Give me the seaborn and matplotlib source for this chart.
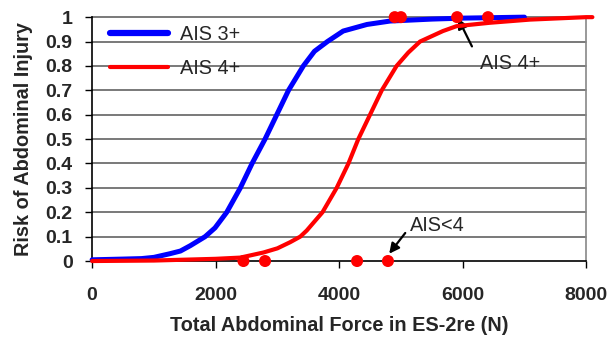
import matplotlib
matplotlib.use("Agg")
import matplotlib.pyplot as plt
import seaborn as sns
import pandas as pd

# Curves
ais3_force = [0, 500, 800, 1000, 1260, 1430, 1590, 1830, 1990, 2180, 2290, 2400, 2590, 2800, 2990,
              3180, 3420, 3600, 3810, 4065, 4450, 4825, 5500, 6000, 7000]
ais3_risk = [0.005, 0.008, 0.01, 0.015, 0.03, 0.041, 0.063, 0.1, 0.136, 0.2, 0.25, 0.3, 0.4, 0.5, 0.6,
             0.7, 0.8, 0.86, 0.9, 0.943, 0.97, 0.984, 0.992, 0.996, 1.0]

ais4_force = [0, 1000, 1430, 2000, 2400, 2775, 3000, 3205, 3370, 3475, 3730, 3960, 4150, 4310, 4500,
              4690, 4930, 5120, 5310, 5680, 5900, 6440, 7090, 8000, 8100]
ais4_risk = [0.0, 0.002, 0.005, 0.009, 0.014, 0.035, 0.052, 0.077, 0.1, 0.125, 0.2, 0.3, 0.4, 0.5, 0.6,
             0.7, 0.8, 0.855, 0.9, 0.943, 0.963, 0.977, 0.99, 1.0, 1.0]

# Observed cases
case_force = [2450, 2800, 4290, 4790, 4900, 5000, 5910, 6410]
case_risk = [0, 0, 0, 0, 1, 1, 1, 1]

x_ticks = [0, 2000, 4000, 6000, 8000]
y_ticks = [0, 0.1, 0.2, 0.3, 0.4, 0.5, 0.6, 0.7, 0.8, 0.9, 1]
y_tick_labels = ["0", "0.1", "0.2", "0.3", "0.4", "0.5", "0.6", "0.7", "0.8", "0.9", "1"]

sns.set_style("white")
plt.rcParams["font.family"] = ["Liberation Sans", "DejaVu Sans"]

fig = plt.figure(figsize=(6.1, 3.43), dpi=100)
ax = fig.add_axes([0.151, 0.239, 0.810, 0.711])

for yv in y_ticks[1:]:
    ax.axhline(yv, color="#555555", lw=1.1, zorder=0)

df3 = pd.DataFrame({"force": ais3_force, "risk": ais3_risk})
df4 = pd.DataFrame({"force": ais4_force, "risk": ais4_risk})
dfc = pd.DataFrame({"force": case_force, "risk": case_risk})

sns.lineplot(data=df3, x="force", y="risk", ax=ax, color="#0000ff", lw=3.6, label="AIS 3+", zorder=3)
sns.lineplot(data=df4, x="force", y="risk", ax=ax, color="#ff0000", lw=3.0, label="AIS 4+", zorder=4)
sns.scatterplot(data=dfc, x="force", y="risk", ax=ax, color="#ff0000", s=75, edgecolor="none", zorder=5)
for c in ax.collections:
    c.set_clip_on(False)
for l in ax.lines:
    l.set_clip_on(False)
    l.set_solid_joinstyle("round")

ax.set_xlim(0, 8000)
ax.set_ylim(0, 1)
ax.set_xticks(x_ticks)
ax.set_xticklabels([str(v) for v in x_ticks], fontsize=14, fontweight="bold")
ax.set_yticks(y_ticks)
ax.set_yticklabels(y_tick_labels, fontsize=14, fontweight="bold")
ax.tick_params(axis="both", direction="out", length=5, width=1, color="black", left=True, bottom=True)
ax.tick_params(axis="y", pad=9)
ax.tick_params(axis="x", pad=14)

ax.set_xlabel("Total Abdominal Force in ES-2re (N)", fontsize=14.3, fontweight="bold", labelpad=8)
ax.set_ylabel("Risk of Abdominal Injury", fontsize=14.3, fontweight="bold", labelpad=9)

for s in ["left", "bottom"]:
    ax.spines[s].set_color("black")
    ax.spines[s].set_linewidth(1.2)
ax.spines["right"].set_color("#888888")
ax.spines["right"].set_linewidth(1.2)
ax.spines["top"].set_visible(False)

leg = ax.legend(loc="upper left", frameon=False, fontsize=14.3, handlelength=2.9,
                handletextpad=0.65, labelspacing=0.75, borderaxespad=0.0,
                bbox_to_anchor=(0.02, 1.0))
leg.get_lines()[0].set_linewidth(4.5)
leg.get_lines()[1].set_linewidth(3.0)

arrow = dict(arrowstyle="-|>", color="black", lw=1.6, mutation_scale=15, shrinkA=0, shrinkB=0)
ax.annotate("", xy=(5925, 0.995), xytext=(6150, 0.88), arrowprops=arrow)
ax.text(6280, 0.81, "AIS 4+", fontsize=14.3, ha="left", va="center")
ax.annotate("", xy=(4810, 0.03), xytext=(5070, 0.115), arrowprops=arrow)
ax.text(5150, 0.145, "AIS<4", fontsize=14.3, ha="left", va="center")

fig.savefig("out.png", dpi=100)
